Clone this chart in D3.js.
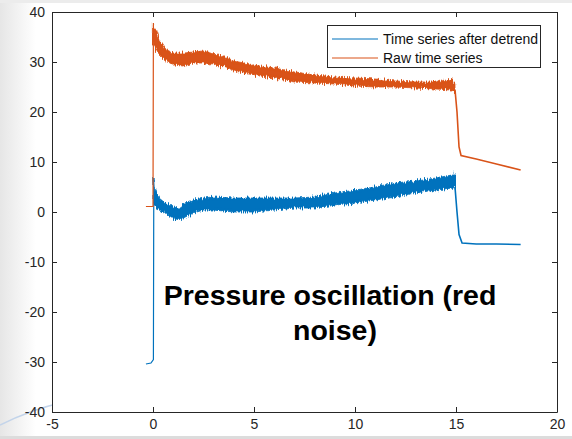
<!DOCTYPE html>
<html>
<head>
<meta charset="utf-8">
<script src="https://cdn.jsdelivr.net/npm/d3@7"></script>
<style>
  html, body { margin: 0; padding: 0; background: #fff; }
  svg { display: block; }
</style>
</head>
<body>
<svg id="chart" width="572" height="439"></svg>
<script>
// tick labels
var xTicks = [-5, 0, 5, 10, 15, 20];
var yTicks = [-40, -30, -20, -10, 0, 10, 20, 30, 40];

// raw time series (orange)
var rawPreX = [-0.35, 0.0, 0.02];
var rawPreY = [1.1, 1.1, 37.8];
var rawBandX = [0.02, 0.1, 0.3, 0.6, 1, 1.5, 2, 2.5, 3, 3.5, 4, 5, 6, 7, 8, 9, 10, 11, 12, 13, 14, 14.8, 14.95];
var rawHi = [37.8, 37, 34.5, 32.6, 31.8, 31.8, 32, 32.2, 31.6, 31, 30.2, 29.4, 28.8, 28, 27.4, 27, 26.8, 26.6, 26.2, 26, 26, 26.6, 25.6];
var rawLo = [33.5, 33, 31.6, 30.4, 29.4, 29.2, 29.8, 29.8, 29.6, 29, 28.2, 27.4, 26.8, 26, 25.8, 25.6, 25.2, 25, 25, 24.8, 24.6, 24.4, 23.8];
var rawTailX = [14.95, 15.05, 15.15, 15.25, 16, 17, 18.2];
var rawTailY = [24.5, 20, 13, 11.3, 10.6, 9.6, 8.4];

// time series after detrend (blue)
var detPreX = [-0.35, -0.1, 0.02, 0.04];
var detPreY = [-30.4, -30.2, -29.5, 6.8];
var detBandX = [0.04, 0.1, 0.3, 0.6, 1, 1.3, 1.6, 2, 2.5, 3, 4, 5, 6, 7, 8, 9, 10, 11, 12, 13, 14, 14.8, 14.95];
var detHi = [6.8, 4.4, 2.8, 1.8, 1, 0.8, 1.8, 2.4, 2.8, 3, 2.8, 2.8, 2.8, 2.8, 3, 3.8, 4.4, 5, 5.8, 6.2, 6.8, 7.4, 7.8];
var detLo = [1.5, 1, 0.4, -0.2, -1.2, -1.6, -1, -0.2, 0.4, 0.4, 0, 0, 0.4, 0.8, 0.8, 1.4, 1.8, 2.4, 3, 3.8, 4.4, 4.8, 4.5];
var detTailX = [14.95, 15.05, 15.15, 15.3, 16, 17, 18.2];
var detTailY = [5, 0, -4.5, -6.2, -6.4, -6.4, -6.5];

var legendNames = ["Time series after detrend", "Raw time series"];
var colors = ["#0072BD", "#D95319"];

var svg = d3.select("#chart"),
	margin = {top: 12, right: 15, bottom: 27, left: 52},
	width = +svg.attr("width"),
	height = +svg.attr("height");

// slide background bits
var defs = svg.append("defs");
var grad = defs.append("linearGradient").attr("id", "shade");
grad.append("stop").attr("offset", "0%").attr("stop-color", "#e6e6e6");
grad.append("stop").attr("offset", "100%").attr("stop-color", "#ffffff");
svg.append("rect").attr("width", 36).attr("height", height).attr("fill", "url(#shade)");
svg.append("rect").attr("width", width).attr("height", 3).attr("fill", "#ececec");
svg.append("rect").attr("y", height - 3).attr("width", width).attr("height", 3).attr("fill", "#dcdcdc");
svg.append("path")
	.attr("d", "M0,425 Q30,410 64,402")
	.attr("fill", "none")
	.attr("stroke", "#c3d4ea")
	.attr("stroke-width", 1.5);

// rough edge for the noisy bands
var rough = defs.append("filter").attr("id", "rough")
	.attr("x", "-5%").attr("y", "-50%").attr("width", "110%").attr("height", "200%");
rough.append("feTurbulence")
	.attr("type", "fractalNoise").attr("baseFrequency", "0.9 0.08")
	.attr("numOctaves", 2).attr("seed", 3).attr("result", "n");
rough.append("feDisplacementMap")
	.attr("in", "SourceGraphic").attr("in2", "n")
	.attr("scale", 7).attr("xChannelSelector", "A").attr("yChannelSelector", "R");

var x = d3.scaleLinear().domain([-5, 20]).range([margin.left, width - margin.right]);
var y = d3.scaleLinear().domain([-40, 40]).range([height - margin.bottom, margin.top]);

var g = svg.append("g");

g.append("rect")
	.attr("x", x(-5)).attr("y", y(40))
	.attr("width", x(20) - x(-5)).attr("height", y(-40) - y(40))
	.attr("fill", "#fff");

var line = d3.line().x(d => x(d[0])).y(d => y(d[1]));
var band = d3.area().x(d => x(d[0])).y0(d => y(d[1])).y1(d => y(d[2]));

function drawSeries(preX, preY, bx, hi, lo, tx, ty, color) {
	g.append("path")
		.datum(preX.map((v, i) => [v, preY[i]]))
		.attr("d", line)
		.attr("fill", "none").attr("stroke", color).attr("stroke-width", 1.2);
	g.append("path")
		.datum(bx.map((v, i) => [v, lo[i], hi[i]]))
		.attr("d", band)
		.attr("fill", color).attr("stroke", color).attr("stroke-width", 0.8)
		.attr("stroke-linejoin", "round")
		.attr("filter", "url(#rough)");
	g.append("path")
		.datum(bx.map((v, i) => [v, lo[i] + 0.6, hi[i] - 0.6]))
		.attr("d", band)
		.attr("fill", color);
	g.append("path")
		.datum(tx.map((v, i) => [v, ty[i]]))
		.attr("d", line)
		.attr("fill", "none").attr("stroke", color).attr("stroke-width", 1.6);
}

drawSeries(detPreX, detPreY, detBandX, detHi, detLo, detTailX, detTailY, colors[0]);
drawSeries(rawPreX, rawPreY, rawBandX, rawHi, rawLo, rawTailX, rawTailY, colors[1]);

// axes box, MATLAB style ticks inside on all sides
var axisColor = "#262626";
var fmt = d => String(d);
svg.append("g")
	.attr("transform", `translate(0,${y(-40)})`)
	.call(d3.axisBottom(x).tickValues(xTicks).tickFormat(fmt).tickSize(-5).tickPadding(7).tickSizeOuter(0));
svg.append("g")
	.attr("transform", `translate(0,${y(40)})`)
	.call(d3.axisTop(x).tickValues(xTicks).tickSize(-5).tickFormat("").tickSizeOuter(0));
svg.append("g")
	.attr("transform", `translate(${x(-5)},0)`)
	.call(d3.axisLeft(y).tickValues(yTicks).tickFormat(fmt).tickSize(-5).tickPadding(7).tickSizeOuter(0));
svg.append("g")
	.attr("transform", `translate(${x(20)},0)`)
	.call(d3.axisRight(y).tickValues(yTicks).tickSize(-5).tickFormat("").tickSizeOuter(0));

svg.selectAll(".domain, .tick line").attr("stroke", axisColor).attr("stroke-width", 1);
svg.selectAll(".tick text")
	.attr("fill", axisColor)
	.attr("font-family", "Liberation Sans, Arial, sans-serif")
	.attr("font-size", "14px");

// legend
var legend = svg.append("g").attr("font-family", "Liberation Sans, Arial, sans-serif");
legend.append("rect")
	.attr("x", 327.5).attr("y", 25.5).attr("width", 213).attr("height", 42)
	.attr("fill", "#fff").attr("stroke", axisColor).attr("stroke-width", 1);
legendNames.forEach((name, i) => {
	legend.append("line")
		.attr("x1", 332).attr("x2", 378)
		.attr("y1", 39 + i * 19).attr("y2", 39 + i * 19)
		.attr("stroke", colors[i]).attr("stroke-width", 1.2);
	legend.append("text")
		.attr("x", 383).attr("y", 44 + i * 19)
		.attr("font-size", "14px")
		.attr("fill", "#111")
		.text(name);
});

// overlay caption
var cap = svg.append("text")
	.attr("text-anchor", "middle")
	.attr("font-family", "Liberation Sans, Arial, sans-serif")
	.attr("font-weight", "bold")
	.attr("font-size", "28.5px")
	.attr("fill", "#000");
cap.append("tspan").attr("x", 330).attr("y", 305).text("Pressure oscillation (red");
cap.append("tspan").attr("x", 335).attr("y", 340).text("noise)");
</script>
</body>
</html>
